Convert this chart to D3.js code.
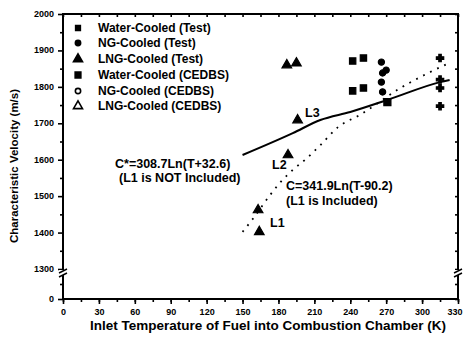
<!DOCTYPE html>
<html>
<head>
<meta charset="utf-8">
<script src="https://cdn.jsdelivr.net/npm/d3@7"></script>
<style>
html,body{margin:0;padding:0;background:#fff;}
text{font-family:"Liberation Sans",Arial,sans-serif;font-weight:bold;fill:#000;}
</style>
</head>
<body>
<svg id="chart" width="463" height="344"></svg>
<script>
// ---- data ----
const waterTestT = [242, 251, 242, 251];
const waterTestV = [1871, 1879, 1789, 1797];
const ngTestT = [266, 270, 267, 266, 267];
const ngTestV = [1868, 1846, 1838, 1813, 1786];
const lngTestT = [163, 164, 188, 196, 187, 195];
const lngTestV = [1462, 1402, 1613, 1709, 1860, 1865];
const waterCedT = [271];
const waterCedV = [1758];
const ngCedT = [315, 315, 315, 315];
const ngCedV = [1879, 1820, 1797, 1747];
// fitted curve C*=308.7Ln(T+32.6) (L1 not included)
const fitAT = [150, 192, 215, 240, 271, 315, 323];
const fitAV = [1613, 1673, 1709, 1731, 1764, 1813, 1819];
// fitted curve C=341.9Ln(T-90.2) (L1 included)
const fitBT = [150, 158, 173, 181, 192, 204, 215, 230, 248, 282, 307, 323];
const fitBV = [1402, 1435, 1503, 1536, 1572, 1605, 1640, 1690, 1723, 1797, 1841, 1866];
const xTicks = [0, 30, 60, 90, 120, 150, 180, 210, 240, 270, 300, 330];
const yTicks = [0, 1300, 1400, 1500, 1600, 1700, 1800, 1900, 2000];
const yTickLabels = ["0", "1300", "1400", "1500", "1600", "1700", "1800", "1900", "2000"];
const legendLabels = ["Water-Cooled (Test)", "NG-Cooled (Test)", "LNG-Cooled (Test)",
                      "Water-Cooled (CEDBS)", "NG-Cooled (CEDBS)", "LNG-Cooled (CEDBS)"];
const xTitle = "Inlet Temperature of Fuel into Combustion Chamber (K)";
const yTitle = "Characteristic Velocity (m/s)";

// ---- layout ----
const svg = d3.select("#chart");
const L = 63, R = 458, T = 14, B = 299;
const x = d3.scaleLinear().domain([0, 330]).range([L, R]);
const y = d3.scaleLinear().domain([0, 1300, 2000]).range([B, 269, T]);

const xMinor = d3.range(0, 331, 15);
const yMinor = d3.range(1350, 2000, 100).concat([650]);

const gx = svg.append("g").attr("transform", `translate(0,${B})`)
  .call(d3.axisBottom(x).tickValues(xTicks).tickSize(5).tickFormat(d3.format("d")));
svg.append("g").attr("transform", `translate(0,${B})`)
  .call(d3.axisBottom(x).tickValues(xMinor).tickSize(3).tickFormat(""));
svg.append("g").attr("transform", `translate(${L},0)`)
  .call(d3.axisLeft(y).tickValues(yTicks).tickSize(5).tickFormat(""));
svg.append("g").attr("transform", `translate(${L},0)`)
  .call(d3.axisLeft(y).tickValues(yMinor).tickSize(3).tickFormat(""));
svg.append("g").attr("transform", `translate(0,${T})`)
  .call(d3.axisBottom(x).tickValues(xMinor).tickSize(3).tickFormat(""));
svg.append("g").attr("transform", `translate(${R},0)`)
  .call(d3.axisLeft(y).tickValues(yTicks.concat(yMinor)).tickSize(-3).tickFormat(""))
  .selectAll("line").attr("x2", -3);

svg.selectAll(".domain").remove();
svg.selectAll(".tick line").attr("stroke", "#000").attr("stroke-width", 1.6);
gx.selectAll("text").attr("font-size", 9).attr("dy", "0.9em");
gx.selectAll(".tick:last-of-type text").attr("text-anchor", "end").attr("x", 4);

// frame
svg.append("rect").attr("x", L).attr("y", T).attr("width", R - L).attr("height", B - T)
  .attr("fill", "none").attr("stroke", "#000").attr("stroke-width", 2);

// axis break marks
[L, R].forEach(px => {
  const by = y(1300) + 4;
  svg.append("rect").attr("x", px - 4).attr("y", by - 3).attr("width", 8).attr("height", 5).attr("fill", "#fff");
  [-2, 2].forEach(o => svg.append("line")
    .attr("x1", px - 4).attr("y1", by + o + 2).attr("x2", px + 4).attr("y2", by + o - 2)
    .attr("stroke", "#000").attr("stroke-width", 1.4));
});

// titles
svg.append("text").attr("x", 268).attr("y", 330).attr("text-anchor", "middle")
  .attr("font-size", 13.5).text(xTitle);
svg.append("text").attr("transform", "translate(18,166) rotate(-90)").attr("text-anchor", "middle")
  .attr("font-size", 11.5).text(yTitle);

// fitted curves
const lineA = d3.line().x((d, i) => x(fitAT[i])).y(d => y(d)).curve(d3.curveMonotoneX);
svg.append("path").attr("d", lineA(fitAV)).attr("fill", "none").attr("stroke", "#000").attr("stroke-width", 2);
const lineB = d3.line().x((d, i) => x(fitBT[i])).y(d => y(d)).curve(d3.curveMonotoneX);
svg.append("path").attr("d", lineB(fitBV)).attr("fill", "none").attr("stroke", "#000")
  .attr("stroke-width", 1.8).attr("stroke-dasharray", "1.8,6");

// markers
const sym = (type, size) => d3.symbol().type(type).size(size)();
function plot(ts, vs, type, size, filled) {
  svg.append("g").selectAll("path").data(vs).join("path")
    .attr("transform", (d, i) => `translate(${x(ts[i])},${y(d)})`)
    .attr("d", sym(type, size))
    .attr("fill", filled ? "#000" : "#fff").attr("stroke", "#000").attr("stroke-width", 1.2);
}
plot(waterTestT, waterTestV, d3.symbolSquare, 40, true);
plot(ngTestT, ngTestV, d3.symbolCircle, 30, true);
plot(lngTestT, lngTestV, d3.symbolTriangle, 40, true);
plot(waterCedT, waterCedV, d3.symbolSquare, 50, true);
plot(ngCedT, ngCedV, d3.symbolCross, 30, true);

// legend
const legTypes = [d3.symbolSquare, d3.symbolCircle, d3.symbolTriangle, d3.symbolSquare, d3.symbolCircle, d3.symbolTriangle];
const legFill = [true, true, true, true, false, false];
const legSize = [22, 22, 35, 32, 22, 35];
const legY = [28, 43, 59, 75, 91, 106];
legendLabels.forEach((lab, i) => {
  svg.append("path").attr("transform", `translate(78,${legY[i]})`)
    .attr("d", sym(legTypes[i], legSize[i]))
    .attr("fill", legFill[i] ? "#000" : "#fff").attr("stroke", "#000").attr("stroke-width", 1.6);
  svg.append("text").attr("x", 98).attr("y", legY[i]).attr("dy", "0.35em")
    .attr("font-size", 12).text(lab);
});

// annotations
const ann = [
  ["C*=308.7Ln(T+32.6)", 115, 164],
  ["(L1 is NOT Included)", 119, 178],
  ["C=341.9Ln(T-90.2)", 286, 186],
  ["(L1 is Included)", 286, 201],
  ["L1", 270, 223],
  ["L2", 272, 165],
  ["L3", 305, 113]
];
ann.forEach(a => svg.append("text").attr("x", a[1]).attr("y", a[2]).attr("dy", "0.35em")
  .attr("font-size", 12.5).text(a[0]));

// y tick labels (drawn last)
svg.append("g").attr("class", "ylabels").selectAll("text").data(yTicks).join("text")
  .attr("x", L - 9).attr("y", d => y(d) + 3)
  .attr("text-anchor", "end").attr("font-size", 9).text((d, i) => yTickLabels[i]);
</script>
</body>
</html>
